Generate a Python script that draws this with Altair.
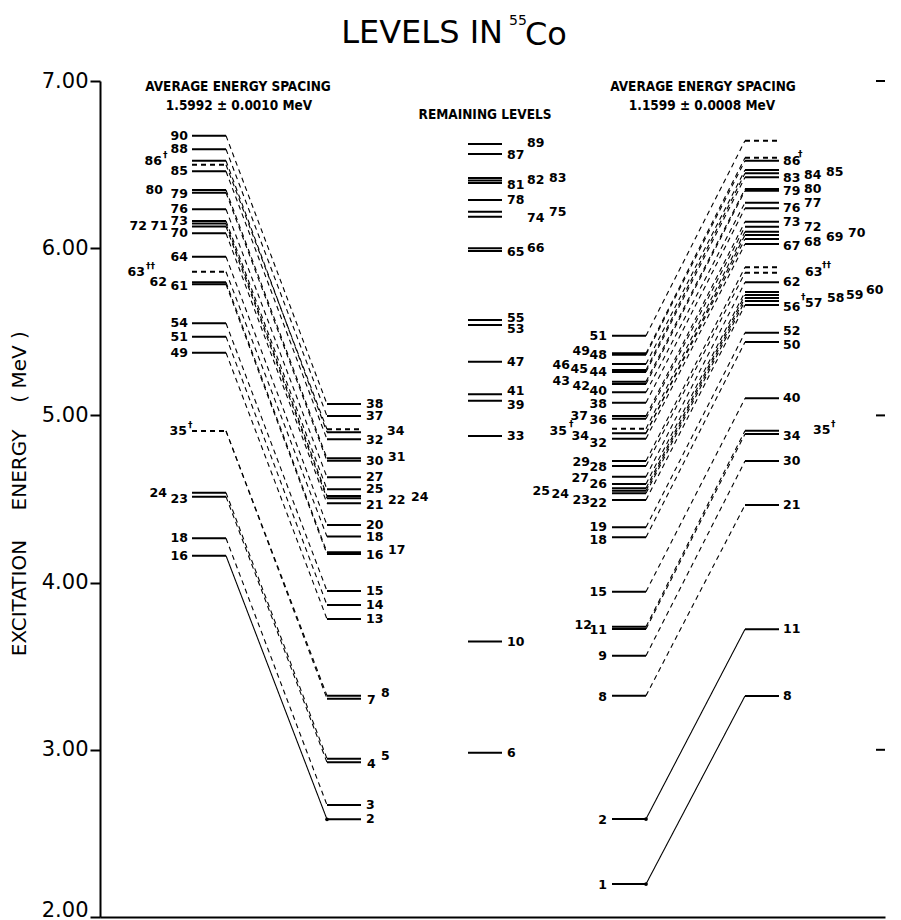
import altair as alt
import pandas as pd

# ---------------- level energies (MeV) ----------------
# Left ladder (spacing 1.5992 MeV): upper members
LU_IDS = ["90", "88", "86", "86d", "85", "80", "79", "76", "73", "72", "71", "70", "64", "63d",
          "62", "61", "54", "51", "49", "35d", "24", "23", "18", "16"]
LU_E = [6.673, 6.592, 6.523, 6.499, 6.460, 6.348, 6.332, 6.233, 6.163, 6.147, 6.130, 6.089,
        5.949, 5.859, 5.796, 5.784, 5.551, 5.471, 5.375, 4.907, 4.538, 4.514, 4.265, 4.161]
# Left ladder: lower members
LL_IDS = ["38", "37", "34d", "34", "32", "31", "30", "27", "25", "24", "22", "21", "20", "18",
          "17", "16", "15", "14", "13", "8", "7", "5", "4", "3", "2"]
LL_E = [5.068, 4.996, 4.917, 4.899, 4.857, 4.743, 4.729, 4.630, 4.558, 4.518, 4.504, 4.474,
        4.344, 4.275, 4.181, 4.171, 3.950, 3.866, 3.782, 3.324, 3.306, 2.947, 2.925, 2.670, 2.584]
# Remaining levels
REM_IDS = ["89", "87", "83", "82", "81", "78", "75", "74", "66", "65", "55", "53", "47", "41",
           "39", "33", "10", "6"]
REM_E = [6.623, 6.563, 6.420, 6.405, 6.390, 6.288, 6.218, 6.188, 5.999, 5.983, 5.571, 5.541,
         5.321, 5.126, 5.088, 4.877, 3.647, 2.983]
# Right ladder (spacing 1.1599 MeV): lower members
RL_IDS = ["51", "49", "48", "46", "45", "44", "43", "42", "40", "38", "37", "36", "35d", "34", "32",
          "29", "28", "27", "26", "25", "24", "23", "22", "19", "18", "15", "12", "11", "9", "8", "2", "1"]
RL_E = [5.477, 5.371, 5.363, 5.307, 5.272, 5.260, 5.202, 5.188, 5.138, 5.076, 4.996, 4.980, 4.920,
        4.893, 4.861, 4.727, 4.697, 4.633, 4.590, 4.564, 4.550, 4.534, 4.494, 4.331, 4.271, 3.946,
        3.736, 3.722, 3.563, 3.324, 2.586, 2.197]
# Right ladder: upper members
RU_IDS = ["top", "86d", "86", "85", "84", "83", "80", "79", "77", "76", "73", "72", "70", "69", "68",
          "67", "63b", "63", "62", "60", "59", "58", "57", "56", "52", "50", "40", "35", "34", "30",
          "21", "11", "8"]
RU_E = [6.643, 6.541, 6.523, 6.468, 6.448, 6.424, 6.354, 6.344, 6.272, 6.239, 6.158, 6.129, 6.099,
        6.079, 6.055, 6.025, 5.886, 5.853, 5.796, 5.738, 5.720, 5.702, 5.684, 5.660, 5.495, 5.439,
        5.102, 4.908, 4.889, 4.727, 4.464, 3.721, 3.322]

DASHED = {"LU": ["86d", "63d", "35d"], "LL": ["34d"], "REM": [], "RL": ["35d"],
          "RU": ["top", "86d", "63b", "63"]}

# connections: left (upper -> lower), right (lower -> upper)
LEFT_LINKS = [("90", "38"), ("88", "37"), ("86", "34"), ("86d", "34d"), ("85", "32"), ("80", "31"),
              ("79", "30"), ("76", "27"), ("73", "25"), ("72", "24"), ("71", "22"), ("70", "21"),
              ("64", "20"), ("63d", "18"), ("62", "17"), ("61", "16"), ("54", "15"), ("51", "14"),
              ("49", "13"), ("35d", "8"), ("35d", "7"), ("24", "5"), ("23", "4"), ("18", "3"),
              ("16", "2")]
LEFT_SOLID = [("16", "2")]
RIGHT_LINKS = [("1", "8"), ("2", "11"), ("8", "21"), ("9", "30"), ("11", "34"), ("12", "35"),
               ("15", "40"), ("18", "50"), ("19", "52"), ("22", "56"), ("23", "57"), ("24", "58"),
               ("25", "59"), ("26", "60"), ("27", "62"), ("28", "63"), ("29", "63b"), ("32", "67"),
               ("34", "68"), ("34", "69"), ("35d", "70"), ("36", "72"), ("37", "73"), ("38", "76"),
               ("40", "77"), ("42", "79"), ("43", "80"), ("44", "83"), ("45", "84"), ("46", "85"),
               ("48", "86"), ("49", "86d"), ("51", "top")]
RIGHT_SOLID = [("1", "8"), ("2", "11")]
JUNCTION_DOTS = [("LL", "2"), ("RL", "1"), ("RL", "2")]
RIGHT_TICKS = [3.0, 5.0, 7.0]
Y_TICKS = [2, 3, 4, 5, 6, 7]

# ---------------- layout (page pixels) ----------------
COLS = {"LU": (192, 226), "LL": (327, 361), "REM": (468, 502), "RL": (612, 646), "RU": (745, 779)}
PLOT_L, PLOT_T, PLOT_W, PLOT_H = 100, 81, 785, 836
PX_PER_MEV = PLOT_H / 5.0

# label layout: (group, level id, text, x, dy)
LABELS_RIGHT = [  # right-aligned labels
    ("LU", "90", "90", 188, 0), ("LU", "88", "88", 188, 0), ("LU", "86", "86", 162, 0),
    ("LU", "85", "85", 188, 0), ("LU", "80", "80", 163, 0), ("LU", "79", "79", 188, 1),
    ("LU", "76", "76", 188, 0), ("LU", "73", "73", 188, 0), ("LU", "72", "72", 147, 2),
    ("LU", "71", "71", 168, 0), ("LU", "70", "70", 188, 0), ("LU", "64", "64", 188, 0),
    ("LU", "63d", "63", 145, 0), ("LU", "62", "62", 167, 0), ("LU", "61", "61", 188, 2),
    ("LU", "54", "54", 188, 0), ("LU", "51", "51", 188, 0), ("LU", "49", "49", 188, 0),
    ("LU", "35d", "35", 187, 0), ("LU", "24", "24", 167, 0), ("LU", "23", "23", 188, 2),
    ("LU", "18", "18", 188, 0), ("LU", "16", "16", 188, 0),
    ("RL", "51", "51", 607, 0), ("RL", "48", "48", 607, 0), ("RL", "49", "49", 590, -2),
    ("RL", "44", "44", 607, 0), ("RL", "45", "45", 588, -1), ("RL", "46", "46", 570, 1),
    ("RL", "42", "42", 590, 2), ("RL", "43", "43", 570, -1), ("RL", "40", "40", 607, -1),
    ("RL", "38", "38", 607, 1), ("RL", "36", "36", 607, 1), ("RL", "37", "37", 588, 0),
    ("RL", "35d", "35", 567, 2), ("RL", "34", "34", 589, 3), ("RL", "32", "32", 607, 4),
    ("RL", "29", "29", 590, 1), ("RL", "28", "28", 607, 1), ("RL", "27", "27", 589, 1),
    ("RL", "26", "26", 607, 0), ("RL", "25", "25", 550, 3), ("RL", "24", "24", 569, 3),
    ("RL", "23", "23", 590, 7), ("RL", "22", "22", 607, 3), ("RL", "19", "19", 607, 0),
    ("RL", "18", "18", 607, 3), ("RL", "15", "15", 607, 0), ("RL", "12", "12", 592, -2),
    ("RL", "11", "11", 607, 1), ("RL", "9", "9", 607, 0), ("RL", "8", "8", 607, 1),
    ("RL", "2", "2", 607, 1), ("RL", "1", "1", 607, 1),
]
LABELS_LEFT = [  # left-aligned labels
    ("LL", "38", "38", 366, 0), ("LL", "37", "37", 366, 0), ("LL", "32", "32", 366, 1),
    ("LL", "34", "34", 387, -1), ("LL", "30", "30", 366, 0), ("LL", "31", "31", 388, -1),
    ("LL", "27", "27", 366, 0), ("LL", "25", "25", 366, 0), ("LL", "21", "21", 366, 2),
    ("LL", "22", "22", 388, 2), ("LL", "24", "24", 411, 1), ("LL", "20", "20", 366, 0),
    ("LL", "18", "18", 366, 0), ("LL", "16", "16", 366, 1), ("LL", "17", "17", 388, -2),
    ("LL", "15", "15", 366, 0), ("LL", "14", "14", 366, 0), ("LL", "13", "13", 366, 0),
    ("LL", "7", "7", 367, 1), ("LL", "8", "8", 381, -3), ("LL", "4", "4", 367, 2),
    ("LL", "5", "5", 381, -3), ("LL", "3", "3", 366, 0), ("LL", "2", "2", 366, 0),
    ("REM", "87", "87", 507, 1), ("REM", "89", "89", 527, -1), ("REM", "81", "81", 507, 2),
    ("REM", "82", "82", 527, 0), ("REM", "83", "83", 549, 0), ("REM", "78", "78", 507, 0),
    ("REM", "74", "74", 527, 1), ("REM", "75", "75", 549, 0), ("REM", "65", "65", 507, 1),
    ("REM", "66", "66", 527, 0), ("REM", "55", "55", 507, -2), ("REM", "53", "53", 507, 4),
    ("REM", "47", "47", 507, 0), ("REM", "41", "41", 507, -3), ("REM", "39", "39", 507, 4),
    ("REM", "33", "33", 507, 0), ("REM", "10", "10", 507, 0), ("REM", "6", "6", 507, 0),
    ("RU", "86", "86", 783, 0), ("RU", "83", "83", 783, 1), ("RU", "84", "84", 804, 2),
    ("RU", "85", "85", 826, 2), ("RU", "79", "79", 783, 0), ("RU", "80", "80", 804, 0),
    ("RU", "76", "76", 783, 0), ("RU", "77", "77", 804, 0), ("RU", "73", "73", 783, 0),
    ("RU", "72", "72", 804, 0), ("RU", "67", "67", 783, 2), ("RU", "68", "68", 804, 3),
    ("RU", "69", "69", 826, 2), ("RU", "70", "70", 848, 1), ("RU", "63", "63", 805, -1),
    ("RU", "62", "62", 783, 0), ("RU", "56", "56", 783, 2), ("RU", "57", "57", 805, 2),
    ("RU", "58", "58", 827, 0), ("RU", "59", "59", 846, 0), ("RU", "60", "60", 866, -2),
    ("RU", "52", "52", 783, -2), ("RU", "50", "50", 783, 3), ("RU", "40", "40", 783, 0),
    ("RU", "34", "34", 783, 2), ("RU", "35", "35", 813, -1), ("RU", "30", "30", 783, 0),
    ("RU", "21", "21", 783, 0), ("RU", "11", "11", 783, 0), ("RU", "8", "8", 783, 0),
]
DAGGERS = [
    ("LU", "86", "\u2020", 163, -6), ("LU", "63d", "\u2020\u2020", 146, -6),
    ("LU", "35d", "\u2020", 188, -6), ("RL", "35d", "\u2020", 569, -5),
    ("RU", "86", "\u2020", 798, -7), ("RU", "63", "\u2020\u2020", 822, -8),
    ("RU", "56", "\u2020", 801, -8), ("RU", "35", "\u2020", 831, -7),
]

# ---------------- build tables ----------------
GROUPS = {"LU": (LU_IDS, LU_E), "LL": (LL_IDS, LL_E), "REM": (REM_IDS, REM_E),
          "RL": (RL_IDS, RL_E), "RU": (RU_IDS, RU_E)}
rows = []
for g, (ids, ens) in GROUPS.items():
    for i, e in zip(ids, ens):
        rows.append(dict(grp=g, id=i, E=e, x0=COLS[g][0], x1=COLS[g][1],
                         style="dashed" if i in DASHED[g] else "solid"))
levels = pd.DataFrame(rows)
EN = {(r["grp"], r["id"]): r["E"] for r in rows}

link_rows = []
for u, l in LEFT_LINKS:
    link_rows.append(dict(x0=COLS["LU"][1], y0=EN[("LU", u)], x1=COLS["LL"][0], y1=EN[("LL", l)],
                          style="solid" if (u, l) in LEFT_SOLID else "dashed"))
for l, u in RIGHT_LINKS:
    link_rows.append(dict(x0=COLS["RL"][1], y0=EN[("RL", l)], x1=COLS["RU"][0], y1=EN[("RU", u)],
                          style="solid" if (l, u) in RIGHT_SOLID else "dashed"))
links = pd.DataFrame(link_rows)


def label_table(items):
    return pd.DataFrame([dict(text=t, x=x, ly=EN[(g, i)] - dy / PX_PER_MEV)
                         for g, i, t, x, dy in items])


lab_r = label_table(LABELS_RIGHT)
lab_l = label_table(LABELS_LEFT)
lab_d = label_table(DAGGERS)
dots = pd.DataFrame([dict(x=COLS[g][0] if g == "LL" else COLS[g][1], E=EN[(g, i)])
                     for g, i in JUNCTION_DOTS])
rticks = pd.DataFrame(dict(E=RIGHT_TICKS, x0=[876] * 3, x1=[885] * 3))

# ---------------- scales & axes ----------------
xs = alt.Scale(domain=[PLOT_L, PLOT_L + PLOT_W], nice=False, zero=False)
ys = alt.Scale(domain=[2, 7], nice=False, zero=False)
XAX = alt.Axis(title=None, ticks=False, labels=False, grid=False, domainColor="black",
               domainWidth=2)
YAX = alt.Axis(title=None, values=Y_TICKS, format=".2f", grid=False,
               domainColor="black", domainWidth=2, tickColor="black", tickWidth=2, tickSize=10,
               labelFont="DejaVu Sans", labelFontSize=21, labelColor="black", labelPadding=2,
               labelFlush=False, labelOverlap=False, labelBound=False,
               labelOffset={"condition": {"test": "datum.value <= 2", "value": -7}, "value": 0})

NUMFONT = "DejaVu Sans"
dash_scale = alt.Scale(domain=["solid", "dashed"], range=[[1, 0], [5, 4]])
lvl_dash_scale = alt.Scale(domain=["solid", "dashed"], range=[[1, 0], [4, 2.5]])

link_layer = alt.Chart(links).mark_rule(color="black", strokeWidth=1.1).encode(
    x=alt.X("x0:Q", scale=xs, axis=XAX), x2="x1:Q",
    y=alt.Y("y0:Q", scale=ys, axis=YAX), y2="y1:Q",
    strokeDash=alt.StrokeDash("style:N", scale=dash_scale, legend=None),
)
level_layer = alt.Chart(levels).mark_rule(color="black", strokeWidth=2).encode(
    x=alt.X("x0:Q", scale=xs, axis=XAX), x2="x1:Q",
    y=alt.Y("E:Q", scale=ys, axis=YAX),
    strokeDash=alt.StrokeDash("style:N", scale=lvl_dash_scale, legend=None),
)
dot_layer = alt.Chart(dots).mark_circle(color="black", size=14, opacity=1).encode(
    x=alt.X("x:Q", scale=xs, axis=XAX), y=alt.Y("E:Q", scale=ys, axis=YAX))
rtick_layer = alt.Chart(rticks).mark_rule(color="black", strokeWidth=2).encode(
    x=alt.X("x0:Q", scale=xs, axis=XAX), x2="x1:Q", y=alt.Y("E:Q", scale=ys, axis=YAX))


def lab_layer(df, align, size, weight="bold"):
    return alt.Chart(df).mark_text(align=align, baseline="middle", font=NUMFONT, fontSize=size,
                                   fontWeight=weight, color="black").encode(
        x=alt.X("x:Q", scale=xs, axis=XAX), y=alt.Y("ly:Q", scale=ys, axis=YAX), text="text:N")


def fixed_text(text, px, py, size, font, weight="normal", align="center", angle=0):
    return alt.Chart(pd.DataFrame({"t": [text]})).mark_text(
        align=align, baseline="middle", font=font, fontSize=size, fontWeight=weight,
        angle=angle, color="black").encode(
        x=alt.value(px - PLOT_L), y=alt.value(py - PLOT_T), text="t:N")


HFONT = "DejaVu Sans Condensed, sans-serif"
HSIZE = 13.5
texts = [
    fixed_text("LEVELS IN", 503, 33, 32, "DejaVu Sans", align="right"),
    fixed_text("55", 509, 21, 14, "DejaVu Sans", align="left"),
    fixed_text("Co", 525, 35, 32, "DejaVu Sans", align="left"),
    fixed_text("AVERAGE ENERGY SPACING", 238, 87, HSIZE, HFONT, "bold"),
    fixed_text("1.5992 \u00b1 0.0010 MeV", 239, 106, HSIZE, HFONT, "bold"),
    fixed_text("REMAINING LEVELS", 485, 115, HSIZE, HFONT, "bold"),
    fixed_text("AVERAGE ENERGY SPACING", 703, 87, HSIZE, HFONT, "bold"),
    fixed_text("1.1599 \u00b1 0.0008 MeV", 702, 106, HSIZE, HFONT, "bold"),
    fixed_text("EXCITATION", 20, 598, 20, "DejaVu Sans", angle=270),
    fixed_text("ENERGY", 20, 470, 20, "DejaVu Sans", angle=270),
    fixed_text("( MeV )", 20, 367, 20, "DejaVu Sans", angle=270),
]

chart = alt.layer(
    link_layer, level_layer, dot_layer, rtick_layer,
    lab_layer(lab_r, "right", 12.5), lab_layer(lab_l, "left", 12.5),
    lab_layer(lab_d, "left", 9),
    *texts,
).properties(
    width=PLOT_W, height=PLOT_H,
    padding={"left": PLOT_L, "top": PLOT_T, "right": 901 - PLOT_L - PLOT_W,
             "bottom": 920 - PLOT_T - PLOT_H},
    autosize=alt.AutoSizeParams(type="none"),
    background="white",
).configure_view(stroke=None)

chart.save("out.html", embed_options={"renderer": "svg", "actions": False})
